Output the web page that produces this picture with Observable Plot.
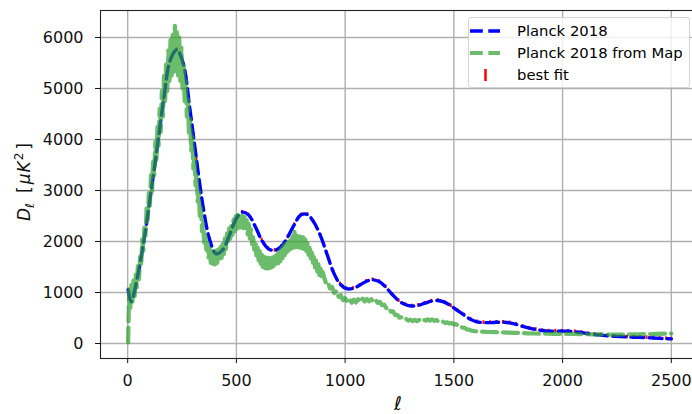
<!DOCTYPE html>
<html>
<head>
<meta charset="utf-8">
<script src="https://cdn.jsdelivr.net/npm/d3@7"></script>
<script src="https://cdn.jsdelivr.net/npm/@observablehq/plot@0.6"></script>
<style>
  body { margin: 0; background: #fff; }
  #chart { position: relative; width: 692px; height: 414px; overflow: hidden; font-family: "DejaVu Sans", sans-serif; }
  #chart svg { position: absolute; left: 0; top: 0; }
  .legend { position: absolute; left: 468px; top: 17px; width: 222px; height: 71px; box-sizing: border-box;
            border: 1px solid #d4d4d4; border-radius: 3px; background: rgba(255,255,255,0.8); }
  .legend .key { position: absolute; left: 4px; width: 32px; height: 14px; }
  .legend .lab { position: absolute; left: 48px; font-size: 14.8px; line-height: 18px; color: #000; white-space: nowrap; }
</style>
</head>
<body>
<div id="chart"></div>
<script>
// Theoretical Planck 2018 TT spectrum, D_ell in muK^2
const theoryL = [2, 16, 46, 76, 106, 136, 166, 196, 226, 256, 286, 316, 346, 376, 406, 436, 466, 496, 526, 556,
  586, 616, 646, 676, 706, 736, 766, 796, 826, 856, 886, 916, 946, 976, 1006, 1036, 1066, 1096, 1126, 1156,
  1186, 1216, 1246, 1276, 1306, 1336, 1366, 1396, 1426, 1456, 1486, 1516, 1546, 1576, 1606, 1636, 1666, 1696,
  1726, 1756, 1786, 1816, 1846, 1876, 1906, 1936, 1966, 1996, 2026, 2056, 2086, 2116, 2146, 2176, 2206, 2236,
  2266, 2296, 2326, 2356, 2386, 2416, 2446, 2476, 2500];
const theoryD = [1050, 820, 1330, 2050, 2935, 3850, 4800, 5560, 5760, 5480, 4600, 3620, 2700, 2050, 1760, 1830, 2100, 2420, 2575, 2520,
  2300, 2030, 1860, 1825, 1900, 2090, 2330, 2520, 2530, 2380, 2120, 1760, 1400, 1170, 1075, 1080, 1140, 1215, 1250, 1215,
  1110, 965, 840, 765, 735, 748, 790, 830, 843, 810, 740, 650, 560, 475, 425, 410, 410, 416,
  417, 405, 375, 335, 300, 275, 255, 243, 241, 242, 241, 230, 215, 195, 178, 165, 152, 143,
  135, 129, 124, 120, 116, 108, 100, 94, 90];

// Best-fit points sit on the same multipoles; half-height of their error bars
const bestFitErr = 35;

// Spectrum measured from the map: fine sampling at low ell, coarser where it is smooth
const mapL = [...d3.range(2, 900, 5), ...d3.range(900, 1600, 10), ...d3.range(1600, 2501, 30)];
const mapD = [
  20, 1050, 700, 1150, 820, 1240, 930, 1350, 1100, 1520,
  1260, 1700, 1520, 2040, 1820, 2330, 2120, 2650, 2430, 2950,
  2700, 3300, 2980, 3620, 3300, 3950, 3600, 4250, 3880, 4600,
  4150, 4950, 4450, 5250, 4700, 5500, 4950, 5750, 5150, 5950,
  5250, 6050, 5300, 6230, 5350, 6100, 5250, 6000, 5150, 5800,
  5000, 5500, 4750, 5150, 4450, 4780, 4100, 4400, 3780, 4050,
  3430, 3680, 3100, 3320, 2780, 2980, 2480, 2650, 2200, 2360,
  1980, 2140, 1790, 1970, 1680, 1860, 1580, 1800, 1560, 1800,
  1550, 1820, 1580, 1840, 1610, 1890, 1680, 1970, 1750, 2060,
  1850, 2160, 1950, 2260, 2050, 2350, 2130, 2430, 2200, 2500,
  2250, 2520, 2270, 2530, 2280, 2510, 2260, 2480, 2210, 2420,
  2140, 2340, 2060, 2240, 1950, 2120, 1840, 2000, 1730, 1900,
  1630, 1810, 1560, 1740, 1500, 1700, 1480, 1680, 1470, 1680,
  1460, 1670, 1470, 1690, 1480, 1710, 1510, 1750, 1550, 1800,
  1610, 1860, 1670, 1920, 1730, 1980, 1790, 2030, 1830, 2070,
  1860, 2100, 1880, 2190, 1890, 2110, 1890, 2100, 1880, 2090,
  1870, 2080, 1850, 2050, 1810, 1990, 1740, 1920, 1670, 1830,
  1580, 1730, 1490, 1640, 1410, 1550, 1340, 1470, 1290, 1400,
  // 900 .. 1590, step 10
  1350, 1200, 1220, 1080, 1110, 990, 1030, 915, 945, 850,
  890, 815, 865, 800, 860, 805, 870, 815, 880, 825,
  875, 828, 868, 818, 852, 795, 815, 750, 760, 690,
  700, 625, 630, 558, 562, 505, 515, 472, 484, 450,
  468, 440, 462, 440, 464, 443, 470, 448, 474, 450,
  472, 444, 460, 428, 440, 428, 404, 414, 392, 400,
  376, 380, 348, 346, 310, 306, 276, 272, 252, 248,
  // 1600 .. 2500, step 30
  240, 232, 226, 222, 218, 214, 210, 205, 200, 196, 193, 191, 190, 189, 188, 186,
  184, 182, 180, 178, 177, 176, 176, 177, 178, 180, 183, 186, 189, 192, 195
];

const xTicks = [0, 500, 1000, 1500, 2000, 2500];
const yTicks = [0, 1000, 2000, 3000, 4000, 5000, 6000];

const theory = theoryL.map((l, i) => ({l, d: theoryD[i]}));
const map = mapL.map((l, i) => ({l, d: mapD[i]}));

const plot = Plot.plot({
  width: 692,
  height: 414,
  marginLeft: 100,
  marginRight: -6,
  marginTop: 10,
  marginBottom: 56,
  style: {fontFamily: "DejaVu Sans, sans-serif", fontSize: "16px", color: "#111", background: "transparent"},
  x: {domain: [-125, 2625], label: null},
  y: {domain: [-294, 6529], label: null},
  marks: [
    Plot.gridX(xTicks, {stroke: "#b0b0b0", strokeOpacity: 1, strokeWidth: 1.4}),
    Plot.gridY(yTicks, {stroke: "#b0b0b0", strokeOpacity: 1, strokeWidth: 1.4}),
    Plot.ruleX(theory, {x: "l", y1: d => d.d - bestFitErr, y2: d => d.d + bestFitErr, stroke: "red", strokeWidth: 2}),
    Plot.line(theory, {x: "l", y: "d", curve: "catmull-rom", stroke: "blue", strokeWidth: 3.4, strokeDasharray: "12.8,5.5"}),
    Plot.line(map, {x: "l", y: "d", stroke: "#2ca02c", strokeOpacity: 0.7, strokeWidth: 4.2, strokeDasharray: "15,6"}),
    Plot.frame({stroke: "#222", strokeWidth: 1.1}),
    Plot.axisX(xTicks, {tickSize: 5, tickPadding: 11, fontSize: 16, tickFormat: d => String(d), label: null}),
    Plot.axisY(yTicks, {tickSize: 5, tickPadding: 12, fontSize: 16, tickFormat: d => String(d), label: null})
  ]
});

const svg = d3.select(plot);
// tick labels at full size
svg.selectAll("text")
  .attr("font-size", 16)
  .style("font-size", "16px")
  .style("font-family", "'DejaVu Sans', sans-serif")
  .style("fill", "#111");

// y-axis title: D_ell [mu K^2]
const yl = svg.append("text")
  .attr("transform", "translate(30,182) rotate(-90)")
  .attr("text-anchor", "middle")
  .attr("font-family", "DejaVu Sans, sans-serif")
  .attr("font-size", 17)
  .attr("fill", "#111");
yl.append("tspan").attr("font-style", "italic").text("D");
yl.append("tspan").attr("font-style", "italic").attr("font-size", 12).attr("dy", 3.5).text("ℓ");
yl.append("tspan").attr("dy", -3.5).attr("dx", 10).text("[");
yl.append("tspan").attr("font-style", "italic").attr("dx", 2).text("μ");
yl.append("tspan").attr("font-style", "italic").attr("dx", 1).text("K");
yl.append("tspan").attr("font-size", 12).attr("dx", 1).attr("dy", -7).text("2");
yl.append("tspan").attr("dx", 3).attr("dy", 7).text("]");

// x-axis title: ell
svg.append("text")
  .attr("x", 398).attr("y", 410)
  .attr("text-anchor", "middle")
  .attr("font-family", "DejaVu Sans, sans-serif")
  .attr("font-style", "italic")
  .attr("font-size", 19)
  .attr("fill", "#111")
  .text("ℓ");

const chart = document.getElementById("chart");
chart.appendChild(plot);

// Legend
const legend = document.createElement("div");
legend.className = "legend";
legend.innerHTML = `
  <svg class="key" style="top:6px" viewBox="0 0 32 14"><line x1="1" x2="31" y1="7" y2="7" stroke="blue" stroke-width="3.4" stroke-dasharray="12.8,5.5"/></svg>
  <div class="lab" style="top:4px">Planck 2018</div>
  <svg class="key" style="top:28px" viewBox="0 0 32 14"><line x1="1" x2="31" y1="7" y2="7" stroke="#2ca02c" stroke-opacity="0.7" stroke-width="4.2" stroke-dasharray="12.8,5.5"/></svg>
  <div class="lab" style="top:26px">Planck 2018 from Map</div>
  <svg class="key" style="top:50px" viewBox="0 0 32 14"><line x1="16.5" x2="16.5" y1="1" y2="13" stroke="red" stroke-width="2.5"/></svg>
  <div class="lab" style="top:48px">best fit</div>`;
chart.appendChild(legend);
</script>
</body>
</html>
